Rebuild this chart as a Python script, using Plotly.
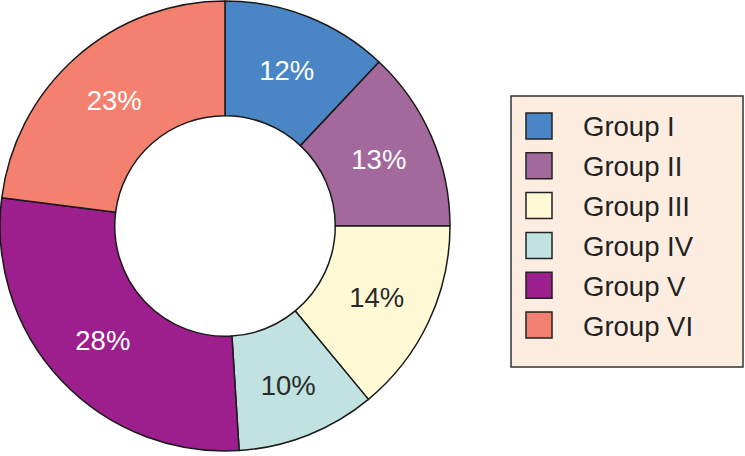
import plotly.graph_objects as go

# Dados do gráfico
grupos = ['Group I', 'Group II', 'Group III', 'Group IV', 'Group V', 'Group VI']
percentuais = [12, 13, 14, 10, 28, 23]
cores = ['#4A86C6', '#A4699C', '#FFF9D6', '#C0E2E0', '#9D1E8D', '#F4806F']
cores_texto = ['white', 'white', '#2a2a2a', '#2a2a2a', 'white', 'white']

W, H = 745, 456
FONTE = 'Arial, Liberation Sans, sans-serif'

fig = go.Figure()

# Gráfico de rosca
fig.add_trace(go.Pie(
    labels=grupos,
    values=percentuais,
    sort=False,
    direction='clockwise',
    rotation=0,
    hole=0.49,
    marker=dict(colors=cores, line=dict(color='#1a1a1a', width=1.5)),
    texttemplate='%{value}%',
    textposition='inside',
    insidetextorientation='horizontal',
    textfont=dict(family=FONTE, size=27.5, color=cores_texto),
    domain=dict(x=[0, 450 / W], y=[4 / H, 1]),
    showlegend=False,
    hoverinfo='label+value',
))

# Legenda desenhada manualmente (caixa, quadrados e textos)
def px(x):
    return x / W

def py(y):
    return 1 - y / H

shapes = [dict(
    type='rect', xref='paper', yref='paper',
    x0=px(511), x1=px(743), y0=py(96), y1=py(367),
    fillcolor='#FDEDE0', line=dict(color='#333333', width=1.5),
    layer='below',
)]
annotations = []
for i, (grupo, cor) in enumerate(zip(grupos, cores)):
    topo = 113 + 39.8 * i
    shapes.append(dict(
        type='rect', xref='paper', yref='paper',
        x0=px(526), x1=px(552), y0=py(topo), y1=py(topo + 26),
        fillcolor=cor, line=dict(color='#222222', width=1.5),
    ))
    annotations.append(dict(
        text=grupo, xref='paper', yref='paper',
        x=px(581), y=py(topo + 14), xanchor='left', yanchor='middle',
        showarrow=False, font=dict(family=FONTE, size=27.5, color='#222222'),
    ))

fig.update_layout(
    width=W,
    height=H,
    margin=dict(l=0, r=0, t=0, b=0),
    paper_bgcolor='white',
    plot_bgcolor='white',
    shapes=shapes,
    annotations=annotations,
    font=dict(family=FONTE),
)

# Remove a margem padrão do <body> para alinhar a figura à janela
fig.write_html(
    "out.html",
    config={'displayModeBar': False},
    post_script="document.body.style.margin='0';",
)
